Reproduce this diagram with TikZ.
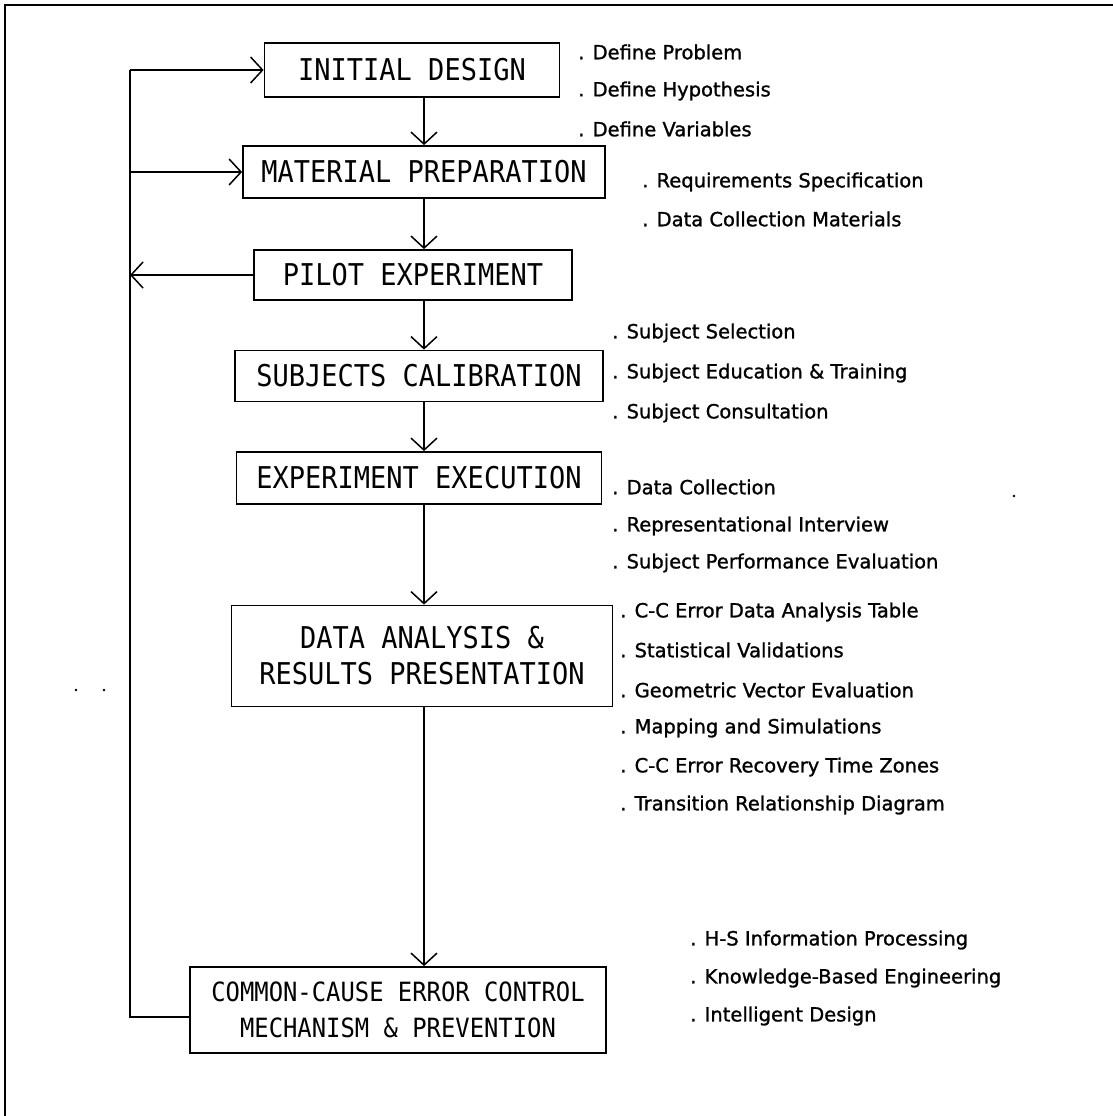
\documentclass[tikz,border=0pt]{standalone}
\usepackage{fontspec}
\setmainfont{DejaVu Sans}[FakeBold=1.2]
\newfontfamily\stagefont{DejaVu Sans Mono}[FakeStretch=0.9]
\usetikzlibrary{arrows.meta}

\begin{document}
\begin{tikzpicture}[x=1pt,y=-1pt,
  stage/.style={draw, line width=1.8pt, inner sep=0pt, align=center,
    font=\stagefont\fontsize{30}{36}\selectfont},
  smallstage/.style={stage, font=\stagefont\fontsize{26.5}{36}\selectfont},
  flow/.style={line width=1.5pt,
    -{Straight Barb[length=12pt,width=26pt,line width=1.5pt]}},
  plain/.style={line width=1.5pt},
  note/.style={anchor=west, inner sep=0pt,
    font=\fontsize{19.5}{22}\selectfont}]

\useasboundingbox (0,0) rectangle (1113,1116);

% outer frame (top and left edges only)
\draw[line width=2.8pt] (5,1116) -- (5,5) -- (1113,5);

% process stages
\node[stage, minimum width=295pt, minimum height=54pt] (init)  at (412,70)  {INITIAL DESIGN};
\node[stage, minimum width=362pt, minimum height=52pt] (mat)   at (424,172) {MATERIAL PREPARATION};
\node[stage, minimum width=318pt, minimum height=50pt] (pilot) at (413,275) {PILOT EXPERIMENT};
\node[stage, minimum width=368pt, minimum height=51pt] (subj)  at (419,376) {SUBJECTS CALIBRATION};
\node[stage, minimum width=365pt, minimum height=52pt] (exec)  at (419,478) {EXPERIMENT EXECUTION};
\node[stage, minimum width=381pt, minimum height=101pt] (data) at (422,656) {DATA ANALYSIS \&\\RESULTS PRESENTATION};
\node[smallstage, minimum width=416pt, minimum height=86pt] (ccec) at (398,1010) {COMMON-CAUSE ERROR CONTROL\\MECHANISM \& PREVENTION};

% main flow
\draw[flow] (init.south -| 424,0) -- (mat.north -| 424,0);
\draw[flow] (mat.south -| 424,0) -- (pilot.north -| 424,0);
\draw[flow] (pilot.south -| 424,0) -- (subj.north -| 424,0);
\draw[flow] (subj.south -| 424,0) -- (exec.north -| 424,0);
\draw[flow] (exec.south -| 424,0) -- (data.north -| 424,0);
\draw[flow] (data.south -| 424,0) -- (ccec.north -| 424,0);

% feedback loop on the left
\coordinate (fbtop) at (130,70);
\coordinate (fbmat) at (130,172);
\coordinate (fbpilot) at (130,275);
\coordinate (fbbot) at (130,1017);
\draw[plain] (ccec.west |- fbbot) -- (fbbot) -- (fbtop);
\draw[flow] (fbtop) -- (init.west);
\draw[flow] (fbmat) -- (mat.west);
\draw[flow] (pilot.west) -- (fbpilot);

% activity notes
\node[note] (n1)  at (578,52)  {. Define Problem};
\node[note] (n2)  at (578,91)  {. Define Hypothesis};
\node[note] (n3)  at (578,129) {. Define Variables};
\node[note] (n4)  at (642,182) {. Requirements Specification};
\node[note] (n5)  at (642,219) {. Data Collection Materials};
\node[note] (n6)  at (612,333) {. Subject Selection};
\node[note] (n7)  at (612,373) {. Subject Education \& Training};
\node[note] (n8)  at (612,413) {. Subject Consultation};
\node[note] (n9)  at (612,487) {. Data Collection};
\node[note] (n10) at (612,526) {. Representational Interview};
\node[note] (n11) at (612,563) {. Subject Performance Evaluation};
\node[note] (n12) at (620,612) {. C-C Error Data Analysis Table};
\node[note] (n13) at (620,650) {. Statistical Validations};
\node[note] (n14) at (620,690) {. Geometric Vector Evaluation};
\node[note] (n15) at (620,728) {. Mapping and Simulations};
\node[note] (n16) at (620,767) {. C-C Error Recovery Time Zones};
\node[note] (n17) at (620,805) {. Transition Relationship Diagram};
\node[note] (n18) at (690,940) {. H-S Information Processing};
\node[note] (n19) at (690,978) {. Knowledge-Based Engineering};
\node[note] (n20) at (690,1016){. Intelligent Design};

% stray marks
\fill (1014,496) circle (1.4pt);
\fill (76,690) circle (1.4pt);
\fill (104,690) circle (1.4pt);
\end{tikzpicture}
\end{document}
